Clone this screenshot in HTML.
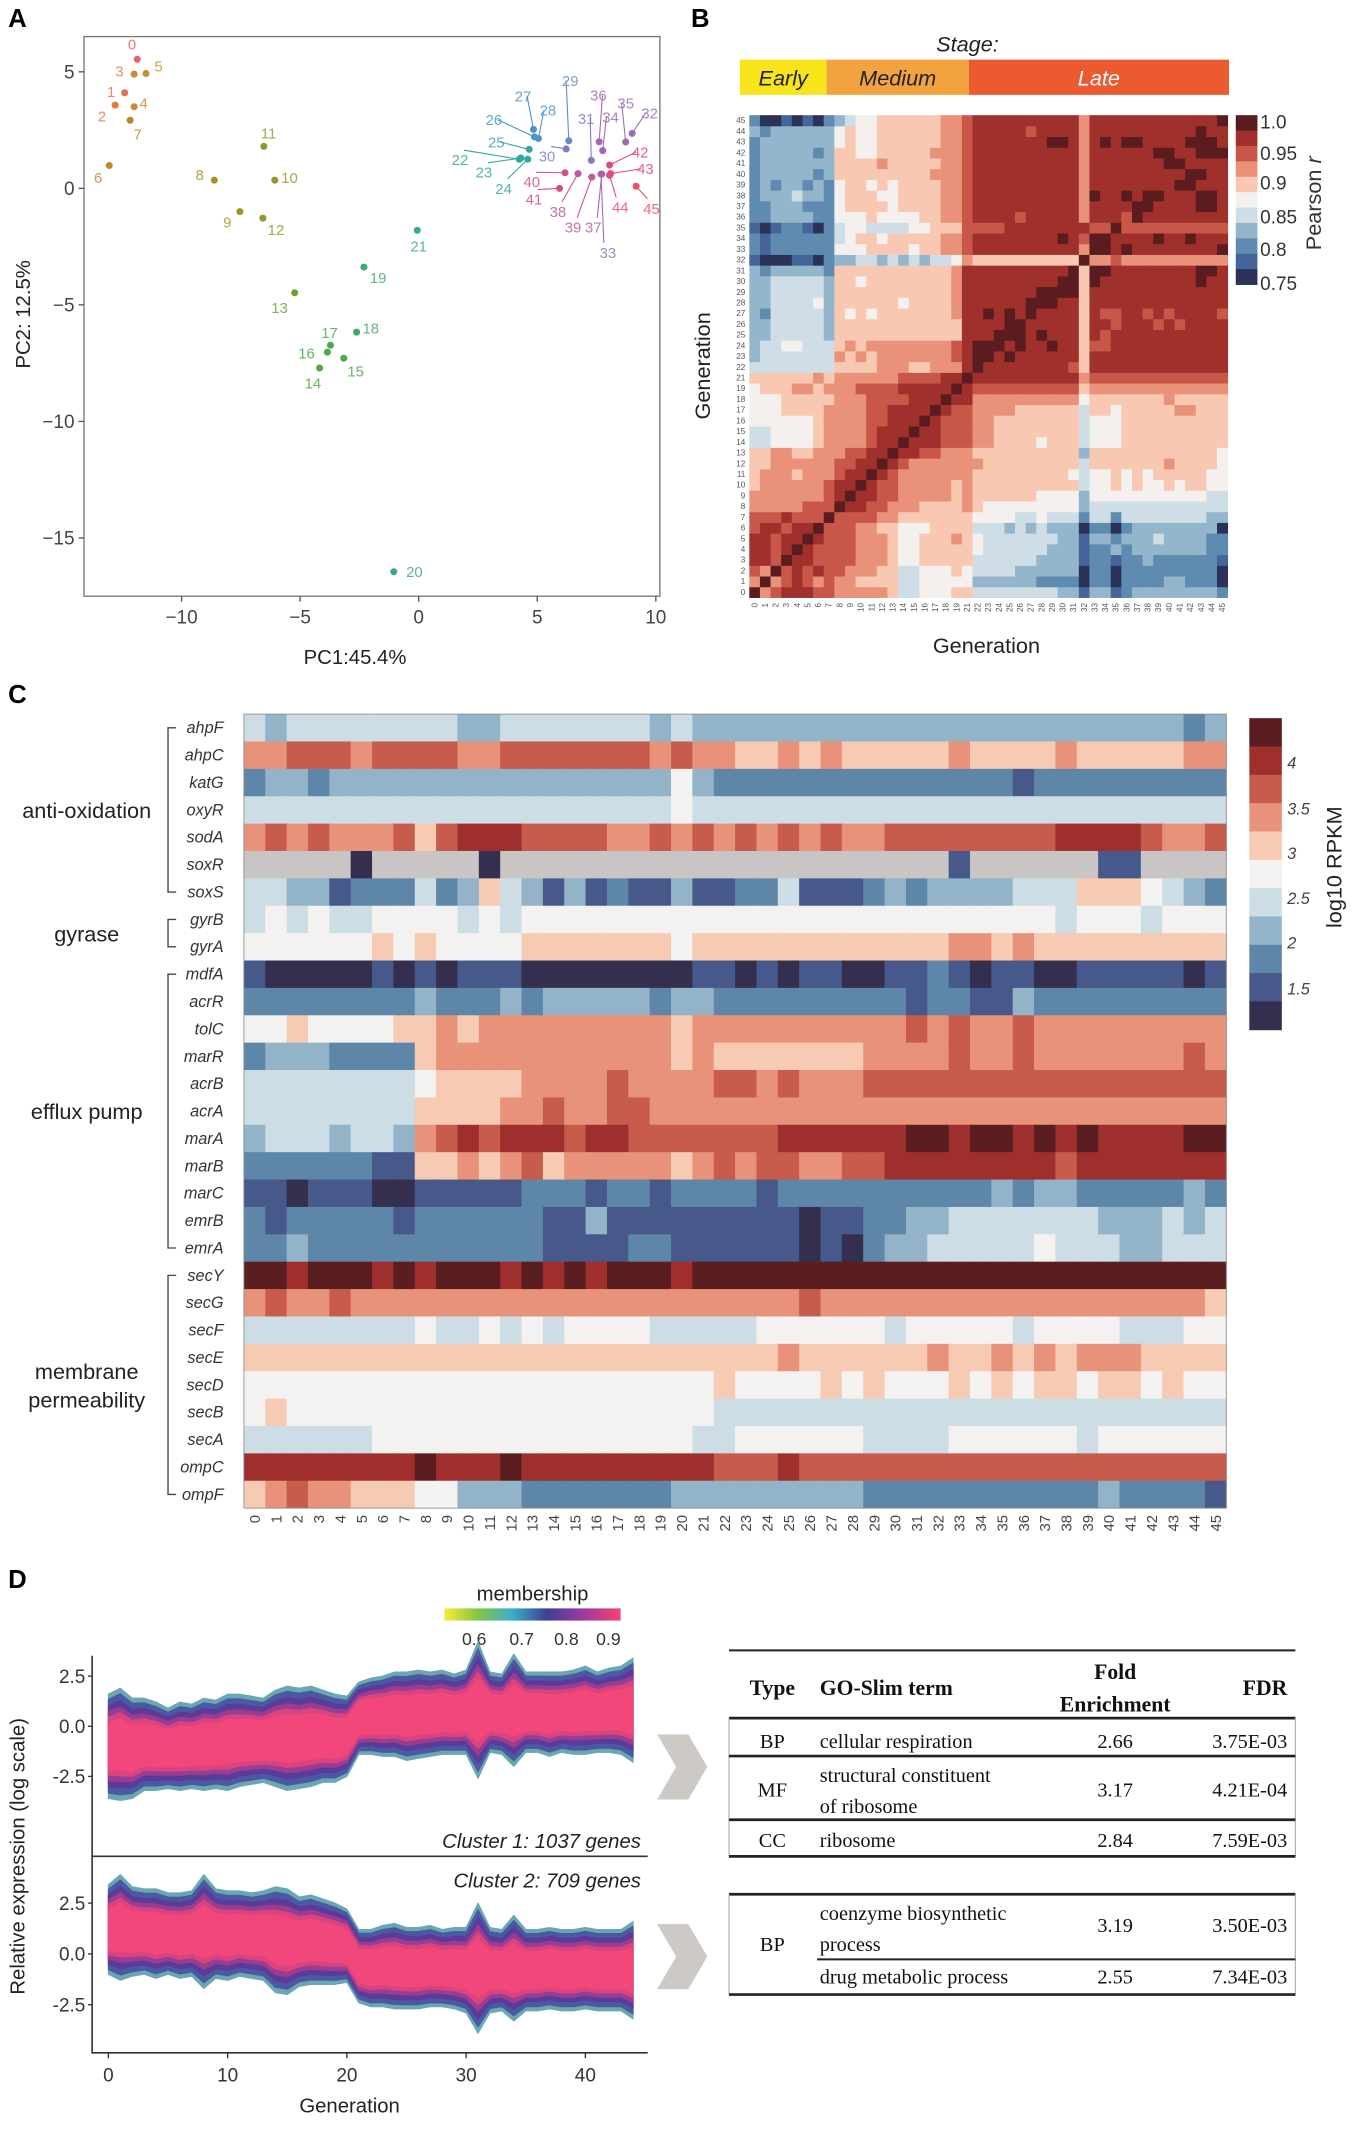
<!DOCTYPE html>
<html><head><meta charset="utf-8">
<style>
html,body{margin:0;padding:0;background:#fff;}
svg{display:block;}
text{font-family:"Liberation Sans",sans-serif;}
.serif{font-family:"Liberation Serif",serif;}
</style></head>
<body>
<svg id="fig" xmlns="http://www.w3.org/2000/svg" width="1355" height="2132" viewBox="0 0 1000 1573.43">
<rect x="0" y="0" width="1000" height="1573.43" fill="#fff"/>
<g id="pA"></g>
<g id="pB"></g>
<g id="pC"></g>
<g id="pD"></g>
<g id="pT"></g>
</svg>
<script>
// ---------- Panel A data ----------
const pcaGen = [0,1,2,3,4,5,6,7,8,9,10,11,12,13,14,15,16,17,18,19,20,21,22,23,24,25,26,27,28,29,30,31,32,33,34,35,36,37,38,39,40,41,42,43,44,45];
const pcaX = [-11.87,-12.4,-12.8,-12.0,-12.0,-11.5,-13.05,-12.17,-8.62,-7.54,-6.07,-6.53,-6.57,-5.23,-4.18,-3.16,-3.85,-3.72,-2.62,-2.31,-1.05,-0.06,4.24,4.31,4.6,4.66,4.88,4.84,5.05,6.33,6.22,7.28,9.0,7.69,7.76,8.73,7.61,7.72,6.72,7.3,6.17,5.94,8.05,8.09,8.05,9.17];
const pcaY = [5.54,4.1,3.57,4.9,3.5,4.93,0.98,2.92,0.35,-1.0,0.35,1.8,-1.28,-4.48,-7.71,-7.29,-7.03,-6.73,-6.17,-3.38,-16.45,-1.8,1.25,1.3,1.25,1.67,2.21,2.53,2.14,2.04,1.69,1.2,2.36,0.61,1.62,1.99,2.0,0.61,0.63,0.48,0.67,0.0,1.0,0.63,0.56,0.09];
const labX = [-12.09,-12.97,-13.36,-12.62,-11.6,-10.97,-13.52,-11.85,-9.23,-8.07,-5.45,-6.33,-6.02,-5.87,-4.46,-2.66,-4.73,-3.76,-2.02,-1.71,-0.18,0,1.74,2.75,3.58,3.27,3.17,4.4,5.45,6.39,5.41,7.06,9.74,7.98,8.09,8.73,7.58,7.36,5.87,6.51,4.77,4.86,9.34,9.56,8.5,9.82];
const labY = [6.19,4.16,3.1,5.04,3.66,5.24,0.46,2.32,0.59,-1.45,0.46,2.38,-1.78,-5.11,-8.36,-7.83,-7.06,-6.19,-6.0,-3.83,-16.45,-2.47,1.23,0.69,0,1.99,2.94,3.96,3.35,4.63,1.39,3.0,3.23,-2.75,3.05,3.66,4.0,-1.67,-0.99,-1.67,0.28,-0.46,1.56,0.84,-0.8,-0.86];
const pcaCol = ["#e8606a","#e8704e","#e07a48","#d0883a","#c98a30","#c8902e","#c08828","#b88a28","#aa8e28","#a09428","#98962a","#92982a","#8c9a2c","#6aa23a","#58a440","#50a848","#4aa84a","#46aa50","#40aa66","#3caa72","#3aaa80","#36aa8a","#30aa98","#2eaaa2","#30a8aa","#36a4b4","#409cc4","#4a94ca","#5290cc","#6a88c8","#7a80c4","#8a78c0","#9070bc","#9870b8","#a068b4","#9a6cb8","#a866b0","#b060a8","#c058a0","#c85898","#d05090","#d84c88","#e04880","#e44a7a","#e84c70","#ea5068"];
const aXTicks = [-10,-5,0,5,10];
const aYTicks = [5,0,-5,-10,-15];

// ---------- Panel B data ----------
const corGen = [0,1,2,3,4,5,6,7,8,9,10,11,12,13,14,15,16,17,18,19,21,22,23,24,25,26,27,28,29,30,31,32,33,34,35,36,37,38,39,40,41,42,43,44,45];
const corRows = [
"A7899988"+"777776"+"445556"+"6"+"4444444433"+"1"+"3312333333332",
"7A789878"+"776666"+"445555"+"5"+"3333332222"+"0"+"2202222332220",
"87A89898"+"877766"+"445556"+"5"+"4444333333"+"0"+"2202222222220",
"998A9988"+"887776"+"556666"+"6"+"4444443333"+"1"+"2212232222221",
"9989A988"+"887776"+"556666"+"6"+"5444444333"+"1"+"2232333333322",
"99899A98"+"887776"+"556667"+"6"+"5444444433"+"1"+"3323334333322",
"899899A8"+"887766"+"555666"+"6"+"4443434333"+"0"+"2202333333330",
"8889888A"+"888877"+"666666"+"6"+"5555445444"+"2"+"4424444444433",
"77777888"+"A99887"+"776666"+"7"+"6555555555"+"3"+"4444444444444",
"77777778"+"9A9988"+"777776"+"7"+"6666665555"+"3"+"5555555555544",
"67777778"+"99A988"+"777776"+"7"+"6666666666"+"4"+"5565655656655",
"67776777"+"899A98"+"777777"+"7"+"6666666665"+"4"+"5565656666655",
"66777777"+"8899A9"+"877777"+"7"+"7666666666"+"4"+"6666666766665",
"66776677"+"78899A"+"998877"+"7"+"6666666666"+"3"+"6666666666665",
"44555567"+"777899"+"A99988"+"8"+"7766665666"+"4"+"5556666666666",
"44555567"+"777899"+"9A9988"+"8"+"7766666666"+"4"+"5556666666666",
"55555567"+"777889"+"99A988"+"8"+"7766666666"+"4"+"5556666666666",
"55566667"+"777889"+"999A98"+"8"+"7777666666"+"4"+"6656666677666",
"55566666"+"777888"+"8999A9"+"9"+"7777777777"+"5"+"6666666766666",
"56667767"+"778888"+"99999A"+"9"+"8888888888"+"6"+"7777777777777",
"66666676"+"777777"+"888899"+"A"+"9999999999"+"7"+"8888888888888",
"44444444"+"666677"+"766777"+"9"+"A999999998"+"6"+"9999999999999",
"34444444"+"767677"+"777778"+"9"+"AA9A999999"+"6"+"9999999999999",
"34455444"+"676777"+"777778"+"9"+"AAA9A99A99"+"6"+"8899999999999",
"33444443"+"666666"+"666666"+"9"+"99AAA9A999"+"6"+"9899999999999",
"33444443"+"666666"+"666666"+"9"+"999AA99999"+"6"+"9989998989999",
"32444443"+"656566"+"666667"+"9"+"9A9A9A9999"+"6"+"9889989899998",
"33444453"+"666666"+"566667"+"9"+"99999AAA99"+"6"+"9999999999999",
"33444443"+"666666"+"666667"+"9"+"999999AAAA"+"6"+"9999999999999",
"33444443"+"665666"+"666667"+"9"+"99999999AA"+"6"+"A999999999A99",
"32333332"+"666666"+"666667"+"9"+"999999999A"+"6"+"AA99999999AA9",
"10001102"+"334434"+"343445"+"7"+"6666666666"+"A"+"7787777777777",
"21222222"+"555666"+"656677"+"8"+"9999999999"+"7"+"AA9A99999999A",
"21222222"+"456656"+"666677"+"8"+"99999999A9"+"8"+"AA9999A99A999",
"10122102"+"455444"+"455666"+"8"+"8889999999"+"9"+"88A8888888888",
"22333322"+"555655"+"556677"+"8"+"9999899999"+"7"+"9998A99999999",
"22333222"+"566665"+"666677"+"8"+"9999999999"+"7"+"9999AA9999AA9",
"23334332"+"566655"+"666677"+"8"+"9999999999"+"7"+"A99A9AA999AA9",
"23233232"+"566565"+"666677"+"8"+"9999999999"+"7"+"99999999AA999",
"23333323"+"666666"+"666777"+"8"+"9999999999"+"7"+"999999999AA99",
"23333333"+"666676"+"666677"+"8"+"9999999999"+"7"+"9999999AA9999",
"23333323"+"665566"+"666777"+"8"+"9999999999"+"7"+"999999AA99AAA",
"23333333"+"565566"+"666677"+"8"+"9999999AA9"+"7"+"9A9AA9999AAA9",
"32333333"+"565566"+"666677"+"8"+"9999989999"+"7"+"9999999999A99",
"20010102"+"345566"+"666677"+"8"+"9999999999"+"7"+"999999999999A"
];
const corTickLabels = ["1.0","0.95","0.9","0.85","0.8","0.75"];
const stageNames = ["Early","Medium","Late"];

// ---------- Panel C data ----------
const genes = ["ahpF","ahpC","katG","oxyR","sodA","soxR","soxS","gyrB","gyrA","mdfA","acrR","tolC","marR","acrB","acrA","marA","marB","marC","emrB","emrA","secY","secG","secF","secE","secD","secB","secA","ompC","ompF"];
const geneRows = [
"4344444444334444444343333333333333333333333323",
"7788878888778888888787766767666667666676666677",
"2332333333333333333353222222222222221222222222",
"4444444444444444444454444444444444444444444444",
"7878777868999888877878787878778888888899998778",
"GGGGG0GGGGG0GGGGGGGGGGGGGGGGGGGGG1GGGGGG11GGGG",
"4433122242364313121131122411123233334446665432",
"4545445555454555555555555555555555555545554555",
"5555556565555666666656666666666667767666666666",
"1000001010111000000001101011001121011001111101",
"2222222232223233333233222222222122113222222222",
"5565555667677777777767777777777878778777777777",
"2333222267777777777767666666677778778777777787",
"4444444456666777787777887877788888888888888888",
"4444444466667787788777777777777777777777777777",
"3444344378989998998888888999999AA9AA9A9A9999AA9".slice(0,46),
"2222221166767867777767878877889999999989999999",
"1101110011111222122122221222222222232332222232",
"2122222122222211311111111101122334444444333434",
"2232222222222211112211111101023344444544433444",
"AA9AAA9A9AAA9A9A9AAA9AAAAAAAAAAAAAAAAAAAAAAAAA",
"7877877777777777777777777787777777777777777776",
"4444444454454545555444445555554555554555544455",
"6666666666666666666666666766666676676767776666",
"5555555555555555555555655556565556565665665655",
"5655555555555555555555444444444444444444444444",
"4444445555555555555554455555544445555554555555",
"99999999A999A999999999888988888888888888888888",
"6787766655333222222233333333322222222222322221"
];
const groups = [
  {name:["anti-oxidation"], from:0, to:6},
  {name:["gyrase"], from:7, to:8},
  {name:["efflux pump"], from:9, to:19},
  {name:["membrane","permeability"], from:20, to:28}
];
const rpkmTicks = ["4","3.5","3","2.5","2","1.5"];

// ---------- Panel D data ----------
const dGen = [0,1,2,3,4,5,6,7,8,9,10,11,12,13,14,15,16,17,18,19,20,21,22,23,24,25,26,27,28,29,30,31,32,33,34,35,36,37,38,39,40,41,42,43,44];
const c1Mean = [-1.0,-0.9,-1.1,-0.9,-1.0,-1.1,-1.0,-1.0,-0.9,-0.9,-0.8,-0.7,-0.7,-0.7,-0.6,-0.6,-0.6,-0.5,-0.5,-0.6,-0.5,0.4,0.5,0.5,0.6,0.5,0.6,0.6,0.7,0.6,0.7,0.8,0.7,0.6,0.8,0.7,0.7,0.6,0.7,0.7,0.8,0.7,0.8,0.8,0.8];
const c1Spread = [2.6,2.8,2.5,2.3,2.2,2.0,2.2,2.1,2.3,2.2,2.4,2.3,2.2,2.1,2.4,2.6,2.5,2.5,2.3,2.2,2.0,1.8,1.9,2.0,2.1,2.2,2.2,2.1,2.1,2.0,2.1,3.4,2.0,2.0,2.8,2.0,2.0,2.1,2.0,2.1,2.2,2.0,2.1,2.2,2.6];
const c2Mean = [1.2,1.3,1.1,1.1,1.0,1.0,0.9,1.0,1.1,1.0,0.9,1.0,0.9,0.9,0.7,0.6,0.6,0.7,0.6,0.5,0.4,-0.6,-0.7,-0.6,-0.6,-0.7,-0.7,-0.6,-0.7,-0.7,-0.8,-0.7,-0.8,-0.8,-0.7,-0.8,-0.8,-0.7,-0.8,-0.8,-0.7,-0.8,-0.8,-0.8,-0.8];
const c2Spread = [2.2,2.6,2.2,2.1,2.2,2.0,2.1,2.1,2.8,2.2,2.2,2.1,2.1,2.2,2.6,2.6,2.2,2.2,2.1,2.0,1.8,1.8,1.9,2.0,2.1,2.0,2.0,2.0,1.9,2.0,2.1,3.2,2.1,2.0,2.6,2.0,2.0,2.0,2.0,2.0,2.0,2.0,2.0,2.0,2.4];
const dXTicks = [0,10,20,30,40];
const dYTicks = [2.5,0.0,-2.5];
const memTicks = ["0.6","0.7","0.8","0.9"];

// ---------- helpers ----------
const NS="http://www.w3.org/2000/svg";
function mk(parent, tag, attrs, txt){
  const e=document.createElementNS(NS,tag);
  for(const k in attrs) e.setAttribute(k,attrs[k]);
  if(txt!==undefined) e.textContent=txt;
  parent.appendChild(e); return e;
}
const palette = {"0":"#352f4f","1":"#46598a","2":"#5e86a8","3":"#92b3c8","4":"#cddde6","5":"#f4f2f0","6":"#f7cab4","7":"#e8927a","8":"#c75b4c","9":"#9e2f2c","A":"#5a1e20","G":"#c9c5c5"};
const corPal = {"0":"#2c3157","1":"#45649a","2":"#5f8bb0","3":"#94b6cc","4":"#cfdde7","5":"#f3f0ee","6":"#f8c8b2","7":"#ea9279","8":"#c8574a","9":"#a0302c","A":"#5a1c1f"};

// ================= Panel A =================
(function(){
  const g=document.getElementById('pA');
  const X=v=>309+17.5*v, Y=v=>139-17.2*v;
  let t=mk(g,'text',{x:6,y:20,'font-size':19,'font-weight':'bold'},'A');
   
  let r=mk(g,'rect',{x:62,y:27,width:425,height:413,fill:'none',stroke:'#777','stroke-width':1});
   
  aXTicks.forEach(v=>{
    const l=mk(g,'line',{x1:X(v),x2:X(v),y1:440,y2:444,stroke:'#555'});
     
    const tx=mk(g,'text',{x:X(v),y:460,'font-size':14,fill:'#444','text-anchor':'middle'},v<0?'\u2212'+(-v):String(v));
     
  });
  aYTicks.forEach(v=>{
    const l=mk(g,'line',{x1:58,x2:62,y1:Y(v),y2:Y(v),stroke:'#555'});
     
    const tx=mk(g,'text',{x:55,y:Y(v)+5,'font-size':14,fill:'#444','text-anchor':'end'},v<0?'\u2212'+(-v):String(v));
     
  });
  t=mk(g,'text',{x:262,y:490,'font-size':15,fill:'#222','text-anchor':'middle'},'PC1:45.4%');
   
  t=mk(g,'text',{x:22,y:232,'font-size':15,fill:'#222','text-anchor':'middle',transform:'rotate(-90 22 232)'},'PC2: 12.5%');
   
  pcaGen.forEach((gen,i)=>{
    const px=X(pcaX[i]), py=Y(pcaY[i]), lx=X(labX[i]), ly=Y(labY[i]);
    if(gen>=22){
      const ln=mk(g,'line',{x1:px,y1:py,x2:lx+(lx<px?6:-6)*0.5,y2:ly-3+(ly>py?-4:3),stroke:pcaCol[i],'stroke-width':0.8});
       
    }
    const c=mk(g,'circle',{cx:px,cy:py,r:2.6,fill:pcaCol[i]});
     
    const tx=mk(g,'text',{x:lx,y:ly+4,'font-size':11,fill:pcaCol[i],'fill-opacity':0.85,'text-anchor':'middle'},String(gen));
     
  });
})();

// ================= Panel B =================
(function(){
  const g=document.getElementById('pB');
  const x0=553,y0=85,W=353,H=356,n=corGen.length,cw=W/n,ch=H/n;
  let t=mk(g,'text',{x:510,y:20,'font-size':19,'font-weight':'bold'},'B');
   
  t=mk(g,'text',{x:714,y:38,'font-size':16,'font-style':'italic',fill:'#222','text-anchor':'middle'},'Stage:');
   
  const stg=[[546,610,'#f7e41a','#222'],[610,715,'#f2a23e','#222'],[715,907,'#ec5a30','#fff']];
  stg.forEach((s,i)=>{
    const r=mk(g,'rect',{x:s[0],y:44,width:s[1]-s[0],height:26,fill:s[2]});
     
    const tx=mk(g,'text',{x:(s[0]+s[1])/2,y:63,'font-size':16,'font-style':'italic',fill:s[3],'text-anchor':'middle'},stageNames[i]);
     
  });
  for(let i=0;i<n;i++){
    const row=corRows[i];
    for(let j=0;j<n;j++){
      const ch_=row[j]||'9';
      const r=mk(g,'rect',{x:(x0+j*cw).toFixed(2),y:(y0+H-(i+1)*ch).toFixed(2),width:(cw+0.3).toFixed(2),height:(ch+0.3).toFixed(2),fill:corPal[ch_]});
       
    }
    const yl=mk(g,'text',{x:x0-3,y:y0+H-(i+0.5)*ch+2,'font-size':6,fill:'#555','text-anchor':'end'},String(corGen[i]));
     
    const cx=x0+(i+0.5)*cw;
    const xl=mk(g,'text',{x:cx+2,y:y0+H+4,'font-size':6,fill:'#555','text-anchor':'end',transform:`rotate(-90 ${cx+2} ${y0+H+4})`},String(corGen[i]));
     
  }
  t=mk(g,'text',{x:728,y:482,'font-size':16,fill:'#222','text-anchor':'middle'},'Generation');
   
  t=mk(g,'text',{x:524,y:270,'font-size':16,fill:'#222','text-anchor':'middle',transform:'rotate(-90 524 270)'},'Generation');
   
  const keys=['A','9','8','7','6','5','4','3','2','1','0'];
  const cy0=85,cbh=125/11;
  keys.forEach((k,i)=>{
    const r=mk(g,'rect',{x:912,y:cy0+i*cbh,width:16,height:cbh+0.3,fill:corPal[k]});
     
  });
  const ly=[90,113,135,160,184,209];
  corTickLabels.forEach((s,i)=>{
    const tx=mk(g,'text',{x:930,y:ly[i]+5,'font-size':14,fill:'#333'},s);
     
  });
  t=mk(g,'text',{x:975,y:150,'font-size':16,fill:'#333','text-anchor':'middle',transform:'rotate(-90 975 150)'},'Pearson ');
   
  const ts=mk(t,'tspan',{'font-style':'italic'},'r');
   
})();

// ================= Panel C =================
(function(){
  const g=document.getElementById('pC');
  const x0=180,y0=527,W=725,H=586,nr=genes.length,nc=46,cw=W/nc,ch=H/nr;
  let t=mk(g,'text',{x:6,y:519,'font-size':19,'font-weight':'bold'},'C');
   
  genes.forEach((gn,i)=>{
    const row=geneRows[i];
    for(let j=0;j<nc;j++){
      const r=mk(g,'rect',{x:(x0+j*cw).toFixed(2),y:(y0+i*ch).toFixed(2),width:(cw+0.3).toFixed(2),height:(ch+0.3).toFixed(2),fill:palette[row[j]||'5']});
       
    }
    const tx=mk(g,'text',{x:165,y:y0+(i+0.5)*ch+4,'font-size':12,'font-style':'italic',fill:'#333','text-anchor':'end'},gn);
     
  });
  for(let j=0;j<nc;j++){
    const cx=x0+(j+0.5)*cw;
    const xl=mk(g,'text',{x:cx+4,y:y0+H+5,'font-size':11,fill:'#444','text-anchor':'end',transform:`rotate(-90 ${cx+4} ${y0+H+5})`},String(j));
     
  }
  const fr=mk(g,'rect',{x:x0,y:y0,width:W,height:H,fill:'none',stroke:'#888','stroke-width':0.6});
   
  groups.forEach(gp=>{
    const ya=y0+(gp.from+0.5)*ch, yb=y0+(gp.to+0.5)*ch;
    const p=mk(g,'path',{d:`M130 ${ya} H124 V${yb} H130`,fill:'none',stroke:'#444','stroke-width':1});
     
    const mid=(ya+yb)/2, nl=gp.name.length;
    gp.name.forEach((s,k)=>{
      const tx=mk(g,'text',{x:64,y:mid+6+(k-(nl-1)/2)*21,'font-size':16,fill:'#222','text-anchor':'middle'},s);
       
    });
  });
  const keys=['A','9','8','7','6','5','4','3','2','1','0'];
  const cbh=230/11;
  keys.forEach((k,i)=>{
    const r=mk(g,'rect',{x:922,y:530+i*cbh,width:24,height:cbh+0.3,fill:palette[k]});
     
  });
  const ly=[562,596,629,662,695,729];
  rpkmTicks.forEach((s,i)=>{
    const tx=mk(g,'text',{x:950,y:ly[i]+5,'font-size':12,'font-style':'italic',fill:'#444'},s);
     
  });
  t=mk(g,'text',{x:990,y:640,'font-size':16,fill:'#222','text-anchor':'middle',transform:'rotate(-90 990 640)'},'log10 RPKM');
   
})();

// ================= Panel D =================
(function(){
  const g=document.getElementById('pD');
  const X=v=>80+8.8*v;
  const Y1=v=>1274-14.8*v, Y2=v=>1442-15*v;
  const AX=1515;
  let t=mk(g,'text',{x:6,y:1172,'font-size':19,'font-weight':'bold'},'D');
   
  const defs=mk(g,'defs',{});
  const lg=mk(defs,'linearGradient',{id:'memgrad',x1:0,x2:1,y1:0,y2:0});
  [['0','#f3ee3a'],['0.18','#8cc63e'],['0.38','#3ab0c8'],['0.58','#3f3f94'],['0.78','#9a3aa0'],['1','#f4436e']].forEach(s=>mk(lg,'stop',{offset:s[0],'stop-color':s[1]}));
  t=mk(g,'text',{x:393,y:1181,'font-size':15,fill:'#222','text-anchor':'middle'},'membership');
   
  let r=mk(g,'rect',{x:328,y:1187,width:130,height:9,fill:'url(#memgrad)'});
   
  [350,385,418,449].forEach((x,i)=>{
    const tx=mk(g,'text',{x:x,y:1214,'font-size':13,fill:'#333','text-anchor':'middle'},memTicks[i]);
     
  });
  const layers=[[1.0,'#6aa8b0'],[0.9,'#4b58a4'],[0.78,'#5a3c98'],[0.66,'#9a3c92'],[0.56,'#d8447f'],[0.46,'#f2477a']];
  function band(mean,spread,Y,name){
    layers.forEach(L=>{
      let up='',lo='';
      dGen.forEach((gn,i)=>{ up+=(i?'L':'M')+X(gn).toFixed(1)+' '+Y(mean[i]+spread[i]*L[0]).toFixed(1)+' '; });
      for(let i=dGen.length-1;i>=0;i--){ lo+='L'+X(dGen[i]).toFixed(1)+' '+Y(mean[i]-spread[i]*L[0]).toFixed(1)+' '; }
      const p=mk(g,'path',{d:up+lo+'Z',fill:L[1],stroke:L[1],'stroke-width':0.8,'stroke-linejoin':'round'});
       
    });
  }
  band(c1Mean,c1Spread,Y1,'cluster1');
  band(c2Mean,c2Spread,Y2,'cluster2');
  let ax=mk(g,'path',{d:`M68 1222 V${AX} H478`,fill:'none',stroke:'#333','stroke-width':1.2});
   
  ax=mk(g,'line',{x1:68,x2:478,y1:1370,y2:1370,stroke:'#333','stroke-width':1.2});
   
  dYTicks.forEach(v=>{
    [Y1,Y2].forEach(Yf=>{
      const tx=mk(g,'text',{x:63,y:Yf(v)+5,'font-size':14,fill:'#333','text-anchor':'end'},v.toFixed(1));
       
      const l=mk(g,'line',{x1:65,x2:68,y1:Yf(v),y2:Yf(v),stroke:'#333'});
       
    });
  });
  dXTicks.forEach(v=>{
    const l=mk(g,'line',{x1:X(v),x2:X(v),y1:AX,y2:AX+4,stroke:'#333'});
     
    const tx=mk(g,'text',{x:X(v),y:AX+21,'font-size':14,fill:'#333','text-anchor':'middle'},String(v));
     
  });
  t=mk(g,'text',{x:473,y:1364,'font-size':15,'font-style':'italic',fill:'#222','text-anchor':'end'},'Cluster 1: 1037 genes');
   
  t=mk(g,'text',{x:473,y:1393,'font-size':15,'font-style':'italic',fill:'#222','text-anchor':'end'},'Cluster 2: 709 genes');
   
  t=mk(g,'text',{x:258,y:1559,'font-size':15,fill:'#222','text-anchor':'middle'},'Generation');
   
  t=mk(g,'text',{x:18,y:1370,'font-size':15,fill:'#222','text-anchor':'middle',transform:'rotate(-90 18 1370)'},'Relative expression (log scale)');
   
  [1280,1420].forEach((y,i)=>{
    const p=mk(g,'path',{d:`M485 ${y} H508 L522 ${y+24} L508 ${y+48} H485 L499 ${y+24} Z`,fill:'#cdc9c5'});
     
  });
})();

// ================= Table =================
(function(){
  const g=document.getElementById('pT');
  const L=538,R=956;
  function hl(y,w,x1){const l=mk(g,'line',{x1:x1||L,x2:R,y1:y,y2:y,stroke:'#222','stroke-width':w});}
  function vl(y1,y2){[L,R].forEach(x=>{const l=mk(g,'line',{x1:x,x2:x,y1:y1,y2:y2,stroke:'#aaa','stroke-width':0.8});});}
  function tx(x,y,s,anchor,bold){const e=mk(g,'text',{x:x,y:y,'font-size':bold?16:15,'font-weight':bold?'bold':'normal',fill:'#111','text-anchor':anchor,class:'serif'},s);return e;}
  hl(1218,1.5);
  tx(570,1251,'Type','middle',1); tx(605,1251,'GO-Slim term','start',1);
  tx(823,1239,'Fold','middle',1); tx(823,1263,'Enrichment','middle',1); tx(950,1251,'FDR','end',1);
  hl(1268,2); vl(1268,1370);
  tx(570,1290,'BP','middle'); tx(605,1290,'cellular respiration','start'); tx(823,1290,'2.66','middle'); tx(950,1290,'3.75E-03','end');
  hl(1296,2);
  tx(570,1326,'MF','middle'); tx(605,1315,'structural constituent','start'); tx(605,1338,'of ribosome','start'); tx(823,1326,'3.17','middle'); tx(950,1326,'4.21E-04','end');
  hl(1343,2);
  tx(570,1363,'CC','middle'); tx(605,1363,'ribosome','start'); tx(823,1363,'2.84','middle'); tx(950,1363,'7.59E-03','end');
  hl(1370,2);
  hl(1398,2); vl(1398,1472);
  tx(605,1417,'coenzyme biosynthetic','start'); tx(605,1440,'process','start'); tx(823,1426,'3.19','middle'); tx(950,1426,'3.50E-03','end');
  tx(570,1440,'BP','middle');
  hl(1446,1.5,603);
  tx(605,1464,'drug metabolic process','start'); tx(823,1464,'2.55','middle'); tx(950,1464,'7.34E-03','end');
  hl(1472,2);
})();
</script>
</body></html>
